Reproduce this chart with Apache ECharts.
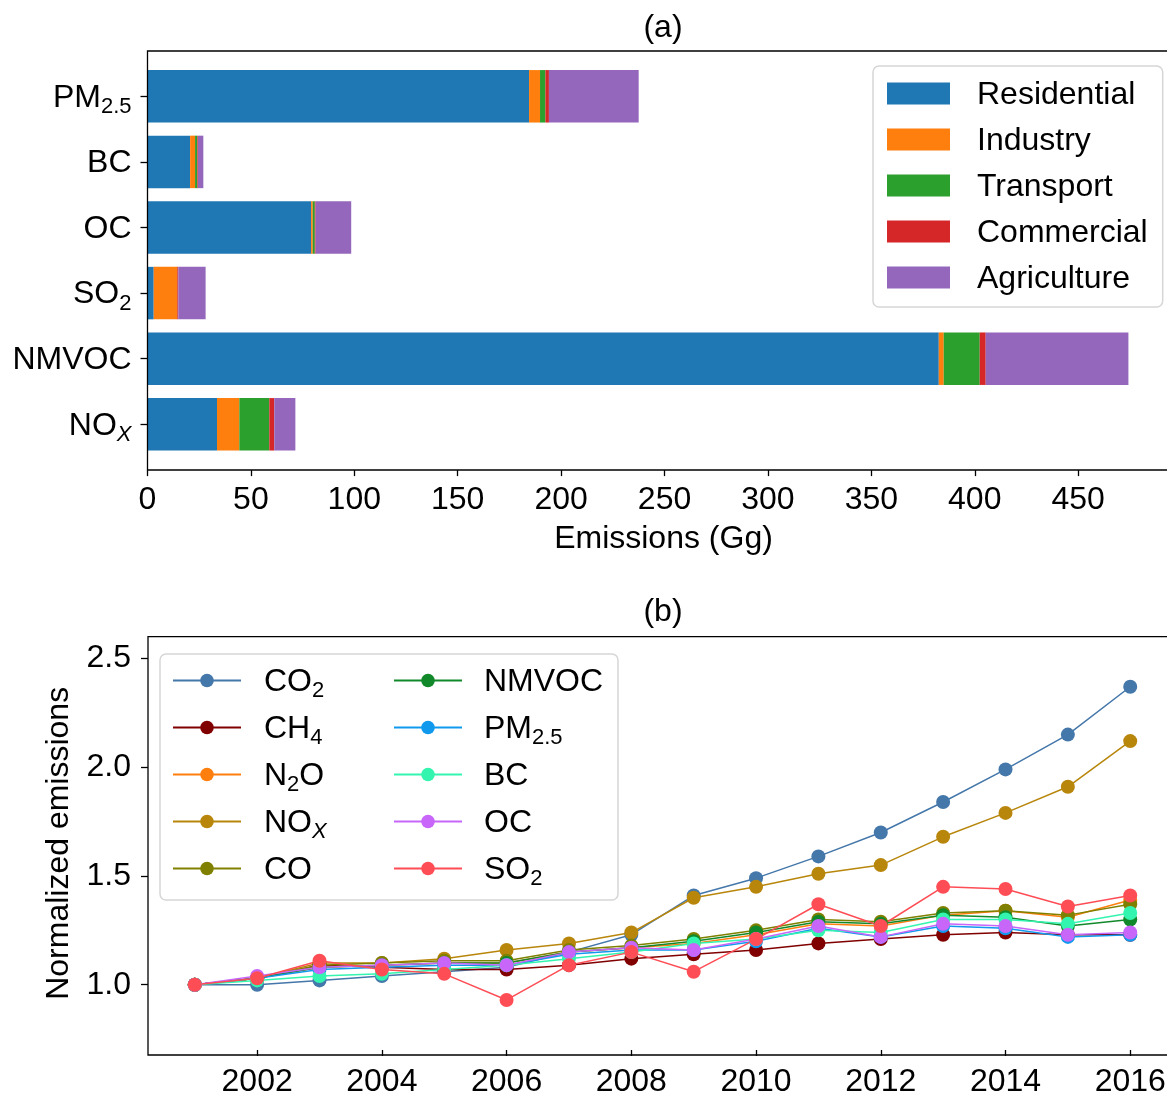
<!DOCTYPE html>
<html><head><meta charset="utf-8">
<style>html,body{margin:0;padding:0;background:#fff;overflow:hidden}#c{width:1200px;height:1098px}</style>
<script src="https://cdn.jsdelivr.net/npm/echarts@6/dist/echarts.min.js"></script>
</head><body><div id="c"></div>
<script>
// ---- Panel (a) data ----
const pollutants = ['PM2.5', 'BC', 'OC', 'SO2', 'NMVOC', 'NOx'];
const sectors = ['Residential', 'Industry', 'Transport', 'Commercial', 'Agriculture'];
const residential = [184.5, 20.6, 79.1, 3.0, 382.6, 33.6];
const industry    = [5.3, 2.4, 0.8, 11.3, 2.4, 10.8];
const transport   = [2.6, 1.1, 1.0, 0.1, 17.4, 14.5];
const commercial  = [1.7, 0.3, 0.4, 0.5, 2.9, 2.4];
const agriculture = [43.4, 2.6, 17.2, 13.2, 69.0, 10.2];
const emissionTicks = [0, 50, 100, 150, 200, 250, 300, 350, 400, 450];

// ---- Panel (b) data ----
const years = [2001, 2002, 2003, 2004, 2005, 2006, 2007, 2008, 2009, 2010, 2011, 2012, 2013, 2014, 2015, 2016];
const co2   = [1.00, 1.00, 1.02, 1.04, 1.06, 1.08, 1.15, 1.23, 1.41, 1.49, 1.59, 1.70, 1.84, 1.99, 2.15, 2.37];
const ch4   = [1.00, 1.03, 1.09, 1.08, 1.07, 1.07, 1.09, 1.12, 1.14, 1.16, 1.19, 1.21, 1.23, 1.24, 1.23, 1.23];
const n2o   = [1.00, 1.03, 1.08, 1.09, 1.10, 1.10, 1.15, 1.17, 1.19, 1.23, 1.28, 1.27, 1.32, 1.34, 1.31, 1.39];
const nox   = [1.00, 1.03, 1.10, 1.10, 1.12, 1.16, 1.19, 1.24, 1.40, 1.45, 1.51, 1.55, 1.68, 1.79, 1.91, 2.12];
const co    = [1.00, 1.03, 1.09, 1.10, 1.11, 1.11, 1.16, 1.18, 1.21, 1.25, 1.30, 1.29, 1.33, 1.34, 1.32, 1.37];
const nmvoc = [1.00, 1.03, 1.08, 1.09, 1.10, 1.10, 1.15, 1.17, 1.20, 1.24, 1.29, 1.28, 1.32, 1.31, 1.27, 1.30];
const pm25  = [1.00, 1.03, 1.07, 1.08, 1.09, 1.09, 1.14, 1.16, 1.16, 1.20, 1.26, 1.22, 1.27, 1.26, 1.22, 1.23];
const bc    = [1.00, 1.02, 1.04, 1.05, 1.07, 1.09, 1.12, 1.15, 1.19, 1.21, 1.25, 1.24, 1.30, 1.30, 1.28, 1.33];
const oc    = [1.00, 1.04, 1.08, 1.09, 1.10, 1.09, 1.15, 1.17, 1.16, 1.21, 1.27, 1.22, 1.28, 1.27, 1.23, 1.24];
const so2   = [1.00, 1.03, 1.11, 1.07, 1.05, 0.93, 1.09, 1.15, 1.06, 1.21, 1.37, 1.27, 1.45, 1.44, 1.36, 1.41];
const yearTicks = [2002, 2004, 2006, 2008, 2010, 2012, 2014, 2016];
const normTicks = [1.0, 1.5, 2.0, 2.5];

const lineNames = ['CO2', 'CH4', 'N2O', 'NOx', 'CO', 'NMVOC', 'PM2.5', 'BC', 'OC', 'SO2'];
const lineValues = [co2, ch4, n2o, nox, co, nmvoc, pm25, bc, oc, so2];
const lineColors = ['#4477aa', '#800000', '#ff7f0e', '#b8860b', '#808000', '#11892b', '#1199ee', '#33f5b0', '#c866fa', '#ff4d55'];
const barColors = ['#1f77b4', '#ff7f0e', '#2ca02c', '#d62728', '#9467bd'];

const FONT = 'Liberation Sans, Arial, sans-serif';
const FS = 32, FT = 32, FSUB = 22;

function richName(name) {
  const map = {
    'PM2.5': '{n|PM}{s|2.5}', 'SO2': '{n|SO}{s|2}', 'NOx': '{n|NO}{si|X}',
    'CO2': '{n|CO}{s|2}', 'CH4': '{n|CH}{s|4}', 'N2O': '{n|N}{s|2}{n|O}'
  };
  return map[name] || ('{n|' + name + '}{s|\u200b}');
}
function richStyles(fs, gap) {
  return {
    g: { width: gap, fontSize: 10, lineHeight: 17, verticalAlign: 'bottom' },
    n: { fontFamily: FONT, fontSize: fs, lineHeight: 36, verticalAlign: 'top', color: '#000' },
    s: { fontFamily: FONT, fontSize: FSUB, lineHeight: 17, verticalAlign: 'bottom', color: '#000' },
    si: { fontFamily: FONT, fontSize: FSUB, fontStyle: 'italic', lineHeight: 17, verticalAlign: 'bottom', color: '#000' }
  };
}

const sectorValues = [residential, industry, transport, commercial, agriculture];
const series = [];
sectors.forEach((s, i) => {
  series.push({
    name: s, type: 'bar', stack: 'total', xAxisIndex: 0, yAxisIndex: 0,
    barWidth: '80%', data: sectorValues[i], itemStyle: { color: barColors[i] },
    animation: false
  });
});
lineNames.forEach((nm, i) => {
  series.push({
    name: nm, type: 'line', xAxisIndex: 1, yAxisIndex: 1,
    data: years.map((y, j) => [y, lineValues[i][j]]),
    symbol: 'circle', symbolSize: 14, showSymbol: true,
    lineStyle: { width: 1.5, color: lineColors[i] },
    itemStyle: { color: lineColors[i] },
    animation: false
  });
});

const tickStyle = { show: true, length: 6, lineStyle: { color: '#000', width: 1.3 } };

const option = {
  backgroundColor: '#fff',
  animation: false,
  grid: [
    { left: 147.5, top: 63.5, width: 1032, height: 393.6 },
    { left: 148, top: 636.7, width: 1029, height: 418.3 }
  ],
  xAxis: [
    {
      gridIndex: 0, type: 'value', min: 0, max: 499, offset: 13,
      axisLine: { show: false }, splitLine: { show: false },
      axisTick: Object.assign({ customValues: emissionTicks }, tickStyle),
      axisLabel: { customValues: emissionTicks, fontFamily: FONT, fontSize: FT, color: '#000', margin: 14 },
      name: 'Emissions (Gg)', nameLocation: 'middle', nameGap: 53,
      nameTextStyle: { fontFamily: FONT, fontSize: FS, color: '#000' }
    },
    {
      gridIndex: 1, type: 'value', min: 2000.25, max: 2016.75,
      axisLine: { show: false }, splitLine: { show: false },
      axisTick: Object.assign({ customValues: yearTicks }, tickStyle),
      axisLabel: { customValues: yearTicks, fontFamily: FONT, fontSize: FT, color: '#000', margin: 16,
        formatter: v => String(v) }
    }
  ],
  yAxis: [
    {
      gridIndex: 0, type: 'category', data: pollutants, inverse: true,
      axisLine: { show: false },
      axisTick: { show: true, alignWithLabel: true, length: 7, lineStyle: { color: '#000', width: 1.3 } },
      axisLabel: { margin: 16, padding: [7, 0, 0, 0], formatter: v => richName(v), rich: richStyles(FT, 20) }
    },
    {
      gridIndex: 1, type: 'value', min: 0.7, max: 2.6,
      axisLine: { show: false }, splitLine: { show: false },
      axisTick: Object.assign({ customValues: normTicks }, tickStyle, { length: 7 }),
      axisLabel: { customValues: normTicks, fontFamily: FONT, fontSize: FT, color: '#000', margin: 17,
        formatter: v => v.toFixed(1) },
      name: 'Normalized emissions', nameLocation: 'middle', nameGap: 70, nameRotate: 90,
      nameTextStyle: { fontFamily: FONT, fontSize: FS, color: '#000' }
    }
  ],
  legend: [
    {
      z: 20, data: sectors, orient: 'vertical', left: 873, top: 66,
      padding: [13, 15, 8, 14], itemGap: 10, itemWidth: 63, itemHeight: 22, icon: 'rect',
      backgroundColor: 'rgba(255,255,255,0.85)', borderColor: '#d6d6d6', borderWidth: 1.5, borderRadius: 6,
      formatter: n => '{g| }' + richName(n), textStyle: { padding: [7, 0, 0, 0], rich: richStyles(FS, 22) }, selectedMode: false
    },
    {
      z: 20, data: lineNames.slice(0, 5), orient: 'vertical', left: 172, top: 666, padding: 0,
      itemGap: 11, itemWidth: 68, itemHeight: 17,
      formatter: n => '{g| }' + richName(n), textStyle: { padding: [7, 0, 0, 0], rich: richStyles(FS, 18) }, selectedMode: false
    },
    {
      z: 20, data: lineNames.slice(5), orient: 'vertical', left: 393, top: 666, padding: 0,
      itemGap: 11, itemWidth: 68, itemHeight: 17,
      formatter: n => '{g| }' + richName(n), textStyle: { padding: [7, 0, 0, 0], rich: richStyles(FS, 17) }, selectedMode: false
    }
  ],
  graphic: [
    { type: 'rect', z: 100, silent: true, shape: { x: 147.5, y: 51, width: 1032, height: 419 },
      style: { fill: 'none', stroke: '#000', lineWidth: 1.3 } },
    { type: 'rect', z: 100, silent: true, shape: { x: 148, y: 636.7, width: 1029, height: 418.3 },
      style: { fill: 'none', stroke: '#000', lineWidth: 1.3 } },
    { type: 'rect', z: 10, silent: true, shape: { x: 160, y: 654, width: 458, height: 246, r: 6 },
      style: { fill: 'rgba(255,255,255,0.85)', stroke: '#d6d6d6', lineWidth: 1.5 } },
    { type: 'text', z: 100, x: 663, y: 28, style: { text: '(a)', font: FT + 'px ' + FONT, fill: '#000', textAlign: 'center', textVerticalAlign: 'middle' } },
    { type: 'text', z: 100, x: 663, y: 612, style: { text: '(b)', font: FT + 'px ' + FONT, fill: '#000', textAlign: 'center', textVerticalAlign: 'middle' } }
  ],
  series: series
};
const chart = echarts.init(document.getElementById('c'), null, { renderer: 'canvas' });
chart.setOption(option);
</script></body></html>
